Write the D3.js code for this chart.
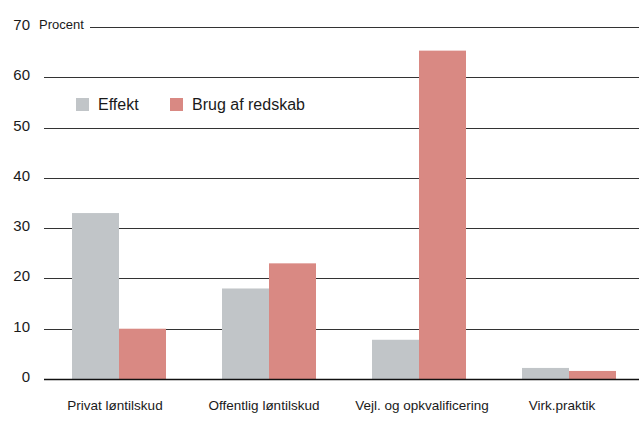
<!DOCTYPE html>
<meta charset="utf-8">
<script src="https://cdn.jsdelivr.net/npm/d3@7"></script>
<style>
body { margin: 0; background: #fff; }
text { font-family: "Liberation Sans", Arial, sans-serif; fill: #1a1a1a; }
</style>
<body>
<script>

var categories = ["Privat løntilskud", "Offentlig løntilskud", "Vejl. og opkvalificering", "Virk.praktik"];
var series = ["Effekt", "Brug af redskab"];
var effekt = [33, 18, 7.8, 2.2];
var brug = [10, 23, 65.3, 1.6];
var yTicks = [0, 10, 20, 30, 40, 50, 60, 70];

var colors = { "Effekt": "#c1c5c8", "Brug af redskab": "#d98983" };

var width = 639,
    height = 432;

var svg = d3.select("body").append("svg")
    .attr("width", width)
    .attr("height", height);

var y = d3.scaleLinear().domain([0, 70]).range([379, 27]);

var x0 = d3.scaleBand().domain(categories).range([44, 644]).padding(0);
var x1 = d3.scaleBand().domain(series).range([28, 122]).padding(0);

var data = categories.map(function(c, i) {
  return { cat: c, values: [
    { key: "Effekt", value: effekt[i] },
    { key: "Brug af redskab", value: brug[i] }
  ]};
});

// gridlines
svg.append("g").selectAll("line")
    .data(yTicks.filter(function(d) { return d > 0; }))
    .enter().append("line")
    .attr("x1", function(d) { return d == 70 ? 90 : 44; })
    .attr("x2", width)
    .attr("y1", function(d) { return Math.round(y(d)) + 0.5; })
    .attr("y2", function(d) { return Math.round(y(d)) + 0.5; })
    .attr("stroke", "#333")
    .attr("stroke-width", 1);

// tick labels
svg.append("g").selectAll("text")
    .data(yTicks)
    .enter().append("text")
    .attr("x", 30)
    .attr("y", function(d) { return y(d) + 3; })
    .attr("text-anchor", "end")
    .style("font-size", "15px")
    .text(function(d) { return d; });

svg.append("text")
    .attr("x", 39)
    .attr("y", 29)
    .style("font-size", "13px")
    .text("Procent");

// bars
var groups = svg.append("g").selectAll("g")
    .data(data)
    .enter().append("g")
    .attr("transform", function(d) { return "translate(" + x0(d.cat) + ",0)"; });

groups.selectAll("rect")
    .data(function(d) { return d.values; })
    .enter().append("rect")
    .attr("x", function(d) { return x1(d.key); })
    .attr("width", x1.bandwidth())
    .attr("y", function(d) { return y(d.value); })
    .attr("height", function(d) { return y(0) - y(d.value); })
    .attr("fill", function(d) { return colors[d.key]; });

// baseline
svg.append("line")
    .attr("x1", 44).attr("x2", width)
    .attr("y1", y(0) + 0.5).attr("y2", y(0) + 0.5)
    .attr("stroke", "#111")
    .attr("stroke-width", 1.3);

// category labels (slightly nudged like the original)
var nudge = [-4, -5, 3, -7];
svg.append("g").selectAll("text")
    .data(categories)
    .enter().append("text")
    .attr("x", function(d, i) { return x0(d) + x0.bandwidth() / 2 + nudge[i]; })
    .attr("y", 410)
    .attr("text-anchor", "middle")
    .style("font-size", "13.5px")
    .text(function(d) { return d; });

// legend
var legendX = [76, 170];
var legend = svg.append("g").selectAll("g")
    .data(series)
    .enter().append("g")
    .attr("transform", function(d, i) { return "translate(" + legendX[i] + ",98)"; });

legend.append("rect")
    .attr("width", 13).attr("height", 13)
    .attr("fill", function(d) { return colors[d]; });

legend.append("text")
    .attr("x", 22)
    .attr("y", 12)
    .style("font-size", "16px")
    .text(function(d) { return d; });

</script>
</body>
